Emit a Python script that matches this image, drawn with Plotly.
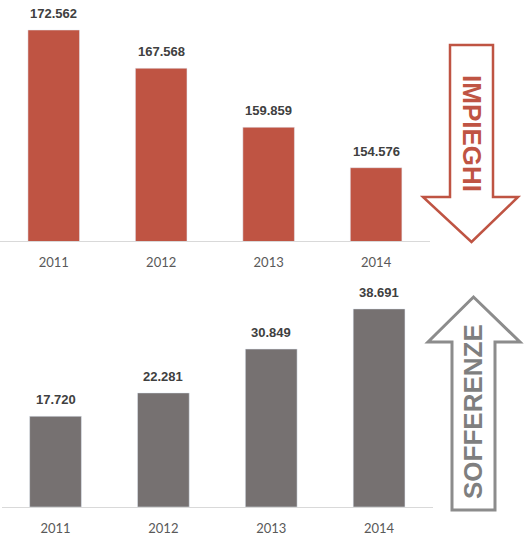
import plotly.graph_objects as go

years = ["2011", "2012", "2013", "2014"]
impieghi = [172562, 167568, 159859, 154576]
sofferenze = [17720, 22281, 30849, 38691]

def fmt(v):
    return f"{v:,}".replace(",", ".")

W, H = 530, 540
def px(x):
    return x / W
def py(y):
    return 1 - y / H

RED = "#BF5443"
GRAY = "#767171"
LBL = "#404040"
TICK = "#595959"
FONT = "Liberation Sans, Arial, sans-serif"

idx = list(range(len(years)))

fig = go.Figure()
fig.add_trace(go.Bar(x=idx, y=impieghi, marker_color=RED, xaxis="x", yaxis="y",
                     width=0.48, hoverinfo="skip"))
fig.add_trace(go.Bar(x=idx, y=sofferenze, marker_color=GRAY, xaxis="x2", yaxis="y2",
                     width=0.48, hoverinfo="skip"))

annotations = []
for i, v in zip(idx, impieghi):
    annotations.append(dict(x=i, y=v, xref="x", yref="y", text=fmt(v), showarrow=False,
                            xanchor="center", yanchor="bottom", yshift=7,
                            font=dict(family=FONT, size=13, color=LBL, weight="bold")))
for i, v in zip(idx, sofferenze):
    annotations.append(dict(x=i, y=v, xref="x2", yref="y2", text=fmt(v), showarrow=False,
                            xanchor="center", yanchor="bottom", yshift=7,
                            font=dict(family=FONT, size=13, color=LBL, weight="bold")))

# arrow labels
annotations.append(dict(x=px(472.5), y=py(133.5), xref="paper", yref="paper", text="IMPIEGHI",
                        showarrow=False, textangle=90, xanchor="center", yanchor="middle",
                        font=dict(family=FONT, size=26, color=RED, weight="bold")))
annotations.append(dict(x=px(472.5), y=py(411.5), xref="paper", yref="paper", text="SOFFERENZE",
                        showarrow=False, textangle=-90, xanchor="center", yanchor="middle",
                        font=dict(family=FONT, size=26, color="#7F7F7F", weight="bold")))

def path(pts):
    return "M " + " L ".join(f"{px(x):.5f},{py(y):.5f}" for x, y in pts) + " Z"

down_arrow = [(450, 45), (493, 45), (493, 197), (518, 197), (471.5, 242),
              (423, 197), (450, 197)]
up_arrow = [(452, 510), (495, 510), (495, 342), (520, 342), (473.5, 297),
            (428, 342), (452, 342)]

shapes = [
    dict(type="path", xref="paper", yref="paper", path=path(down_arrow),
         line=dict(color=RED, width=2.5), fillcolor="rgba(0,0,0,0)"),
    dict(type="path", xref="paper", yref="paper", path=path(up_arrow),
         line=dict(color="#8C8C8C", width=3), fillcolor="rgba(0,0,0,0)"),
]

axis_common = dict(type="linear", range=[-0.5, len(years) - 0.5], tickvals=idx, ticktext=years,
                   showgrid=False, zeroline=False, showline=True,
                   linecolor="#D9D9D9", linewidth=1, ticks="", ticklabelstandoff=9,
                   tickfont=dict(family="Lato, sans-serif", size=13, color=TICK))

fig.update_layout(
    width=W, height=H,
    margin=dict(l=0, r=0, t=0, b=0),
    paper_bgcolor="white", plot_bgcolor="white",
    showlegend=False,
    xaxis=dict(domain=[0, 0.811], anchor="y", **axis_common),
    yaxis=dict(domain=[py(241), 1], range=[145000, 145000 + 241 / 0.007655],
               anchor="x", visible=False),
    xaxis2=dict(domain=[0.003, 0.817], anchor="y2", **axis_common),
    yaxis2=dict(domain=[py(507), py(290)], range=[0, 217 / 0.00512],
                anchor="x2", visible=False),
    annotations=annotations,
    shapes=shapes,
)

fig.write_html("out.html", config={"displayModeBar": False},
               post_script="document.body.style.margin='0';")
